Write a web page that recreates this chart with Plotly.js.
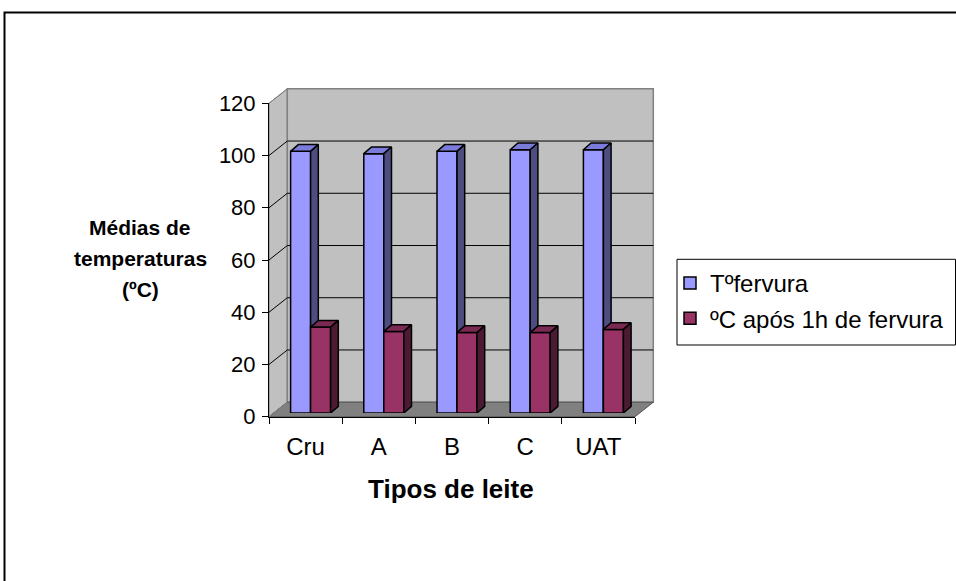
<!DOCTYPE html>
<html>
<head>
<meta charset="utf-8">
<script src="https://cdn.plot.ly/plotly-3.0.1.min.js"></script>
<style>html,body{margin:0;padding:0;background:#fff;}#chart{width:956px;height:581px;}</style>
</head>
<body>
<div id="chart"></div>
<script>
// ---- data ----
const categories = ['Cru', 'A', 'B', 'C', 'UAT'];
const fervura = [100.2, 99.3, 100.2, 100.8, 100.8];
const aposUmaHora = [32.9, 31.2, 30.8, 30.8, 32.0];
const seriesNames = ['Tºfervura', 'ºC após 1h de fervura'];
const yTicks = [0, 20, 40, 60, 80, 100, 120];
const xTitle = 'Tipos de leite';
const yTitleLines = ['Médias de', 'temperaturas', '(ºC)'];

// ---- layout geometry (pixels) ----
const W = 956, H = 581;
const FX0 = 269, FX1 = 635, FY0 = 416.7, FY1 = 103.3;   // front plane
const BX = 5, BY = -3.7;                                 // bar plane offset
const DX = 18.3, DY = -14.5;                             // back wall offset
const BDX = 7.7, BDY = -6.7;                             // bar depth
const yMax = yTicks[yTicks.length - 1];
const n = categories.length;
const px = v => v / W, py = v => 1 - v / H;

const idx = categories.map((c, i) => i);
const barW = 20 / ((FX1 - FX0) / n);
const ddx = BDX / ((FX1 - FX0) / n);
const ddy = -BDY / ((FY0 - FY1) / yMax);

function faces(vals, off) {
  const top = {x: [], y: []}, side = {x: [], y: []};
  vals.forEach((v, i) => {
    const l = i + off, r = i + off + barW;
    top.x.push(l, r, r + ddx, l + ddx, l, null);
    top.y.push(v, v, v + ddy, v + ddy, v, null);
    side.x.push(r, r + ddx, r + ddx, r, r, null);
    side.y.push(0, ddy, v + ddy, v, 0, null);
  });
  return {top, side};
}
const fb = faces(fervura, -barW), fr = faces(aposUmaHora, 0);
const edge = {color: '#000', width: 1.5};
const family = 'Liberation Sans, Arial, sans-serif';
const font = {family: family, size: 24, color: '#000'};

const traces = [
  {type: 'scatter', x: categories, y: categories.map(() => 0), xaxis: 'x', yaxis: 'y',
   mode: 'markers', marker: {opacity: 0}, hoverinfo: 'skip', showlegend: false},
  {type: 'bar', x: idx, y: fervura, width: barW, offset: -barW, xaxis: 'x2', yaxis: 'y2',
   name: seriesNames[0], legendgroup: 'g1', marker: {color: '#9999FF', line: edge}},
  {type: 'scatter', x: fb.top.x, y: fb.top.y, xaxis: 'x2', yaxis: 'y2', mode: 'lines',
   fill: 'toself', fillcolor: '#7B7BDB', line: edge, showlegend: false, hoverinfo: 'skip'},
  {type: 'scatter', x: fb.side.x, y: fb.side.y, xaxis: 'x2', yaxis: 'y2', mode: 'lines',
   fill: 'toself', fillcolor: '#4D4D80', line: edge, showlegend: false, hoverinfo: 'skip'},
  {type: 'bar', x: idx, y: aposUmaHora, width: barW, offset: 0, xaxis: 'x3', yaxis: 'y3',
   name: seriesNames[1], legendgroup: 'g2', marker: {color: '#993366', line: edge}},
  {type: 'scatter', x: fr.top.x, y: fr.top.y, xaxis: 'x3', yaxis: 'y3', mode: 'lines',
   fill: 'toself', fillcolor: '#7A2952', line: edge, showlegend: false, hoverinfo: 'skip'},
  {type: 'scatter', x: fr.side.x, y: fr.side.y, xaxis: 'x3', yaxis: 'y3', mode: 'lines',
   fill: 'toself', fillcolor: '#4D1A33', line: edge, showlegend: false, hoverinfo: 'skip'}
];

// walls, floor and gridlines in front-axis domain units
const dX = DX / (FX1 - FX0), dY = -DY / (FY0 - FY1);
const shapes = [
  {type: 'rect', xref: 'paper', yref: 'paper', x0: px(4.5), x1: 1.05, y0: -0.05, y1: py(12.5),
   line: {color: '#000', width: 2}, fillcolor: 'rgba(0,0,0,0)', layer: 'below'},
  {type: 'rect', xref: 'paper', yref: 'paper', x0: px(677), x1: px(955.5), y0: py(345), y1: py(259.3),
   line: {color: '#000', width: 1}, fillcolor: '#fff', layer: 'below'},
  {type: 'path', xref: 'x domain', yref: 'y domain', layer: 'below',
   path: `M0,0L0,1L${dX},${1 + dY}L${dX},${dY}Z`, fillcolor: '#C0C0C0', line: {color: '#808080', width: 1}},
  {type: 'rect', xref: 'x domain', yref: 'y domain', layer: 'below',
   x0: dX, x1: 1 + dX, y0: dY, y1: 1 + dY, fillcolor: '#C0C0C0', line: {color: '#808080', width: 1.5}},
  {type: 'path', xref: 'x domain', yref: 'y domain', layer: 'below',
   path: `M0,0L1,0L${1 + dX},${dY}L${dX},${dY}Z`, fillcolor: '#808080', line: {color: '#555', width: 1}}
];
yTicks.forEach(v => {
  const f = v / yMax;
  if (v > 0 && v < yMax) {
    shapes.push({type: 'line', xref: 'x domain', yref: 'y domain', layer: 'below',
      x0: dX, x1: 1 + dX, y0: f + dY, y1: f + dY, line: {color: '#000', width: 1}});
  }
  shapes.push({type: 'line', xref: 'x domain', yref: 'y domain', layer: 'below',
    x0: 0, x1: dX, y0: f, y1: f + dY, line: {color: (v > 0 && v < yMax) ? '#000' : '#808080', width: 1}});
});

const titleFont = size => ({family: family, size: size, color: '#000'});
const annotations = yTitleLines.map((t, i) => ({
  xref: 'paper', yref: 'paper', x: px(140), y: py(227.5 + i * 31), xanchor: 'center', yanchor: 'middle',
  text: '<b>' + t + '</b>', showarrow: false, font: titleFont(21)
}));
annotations.push({xref: 'paper', yref: 'paper', x: px(451), y: py(489), xanchor: 'center', yanchor: 'middle',
  text: '<b>' + xTitle + '</b>', showarrow: false, font: titleFont(26)});

const layout = {
  width: W, height: H, margin: {l: 0, r: 0, t: 0, b: 0},
  paper_bgcolor: '#fff', plot_bgcolor: 'rgba(0,0,0,0)',
  showlegend: true, barmode: 'overlay', font: font,
  xaxis: {domain: [px(FX0), px(FX1)], anchor: 'y', type: 'category', categoryarray: categories,
    range: [-0.5, n - 0.5], tickson: 'boundaries', ticks: 'outside', ticklen: 6, tickcolor: '#000',
    showline: true, linecolor: '#000', linewidth: 1, showgrid: false, zeroline: false,
    tickfont: {family: family, size: 24, color: '#000'}, ticklabelstandoff: 8, fixedrange: true},
  yaxis: {domain: [py(FY0), py(FY1)], anchor: 'x', range: [0, yMax], tickvals: yTicks,
    ticks: 'outside', ticklen: 6, tickcolor: '#000', showline: true, linecolor: '#000', linewidth: 1,
    showgrid: false, zeroline: false, tickfont: {family: family, size: 22, color: '#000'},
    ticklabelstandoff: 2, fixedrange: true},
  xaxis2: {domain: [px(FX0 + BX), px(FX1 + BX)], anchor: 'y2', range: [-0.5, n - 0.5], visible: false, fixedrange: true},
  yaxis2: {domain: [py(FY0 + BY), py(FY1 + BY)], anchor: 'x2', range: [0, yMax], visible: false, fixedrange: true},
  xaxis3: {overlaying: 'x2', anchor: 'y3', range: [-0.5, n - 0.5], visible: false, fixedrange: true},
  yaxis3: {overlaying: 'y2', anchor: 'x3', range: [0, yMax], visible: false, fixedrange: true},
  legend: {x: px(670), xanchor: 'left', y: py(261), yanchor: 'top', bgcolor: 'rgba(0,0,0,0)',
    borderwidth: 0, font: font, traceorder: 'grouped', tracegroupgap: 1},
  shapes: shapes,
  annotations: annotations
};

Plotly.newPlot('chart', traces, layout, {displayModeBar: false, staticPlot: true});
</script>
</body>
</html>
